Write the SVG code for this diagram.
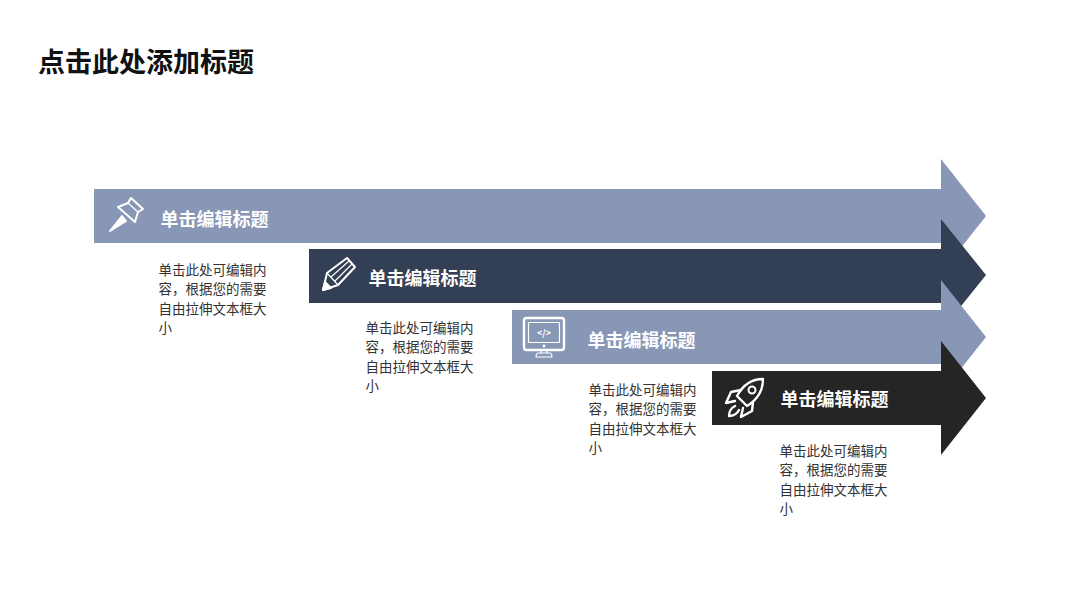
<svg xmlns="http://www.w3.org/2000/svg" width="1080" height="608" viewBox="0 0 1080 608">
<style>
text{font-family:"Noto Sans CJK SC","Liberation Sans",sans-serif}
.title{font-size:27px;font-weight:700;fill:#111}
.head{font-size:18px;font-weight:700;fill:#fff}
.body{font-size:13.5px;fill:#333}
.ic{fill:none;stroke:#fff;stroke-width:2;stroke-linejoin:round;stroke-linecap:round}
.thin{stroke-width:1.2}
</style>
<rect width="1080" height="608" fill="#fff"/>
<text class="title" x="38" y="72" textLength="216" lengthAdjust="spacingAndGlyphs">点击此处添加标题</text>

<g id="node-1">
<path fill="#8997b6" d="M94 189H941V159L986 216L941 273V243H94Z"/>
<g class="ic">
<path d="M131 198L143 209L138 212L135 222L118 207L128 203Z"/>
<path d="M128 203L138 212" class="thin"/>
<path d="M122 216L110 231L126 221Z" fill="#fff"/>
</g>
<text class="head" x="160.500" y="226">单击编辑标题</text>
<text class="body"><tspan x="158.500" y="275">单击此处可编辑内</tspan><tspan x="158.500" y="294">容，根据您的需要</tspan><tspan x="158.500" y="314">自由拉伸文本框大</tspan><tspan x="158.500" y="333">小</tspan></text>
</g>

<g id="node-2">
<path fill="#333f54" d="M309 249H941V219L986 275L941 331V303H309Z"/>
<g class="ic">
<path d="M323 290L327 273L347 258L355 267L338 285Z"/>
<path d="M331 277L349 261M335 281L352 264M327 273L338 285" class="thin"/>
<path d="M323 290L325 282L331 288Z" fill="#fff"/>
</g>
<text class="head" x="368.500" y="285">单击编辑标题</text>
<text class="body"><tspan x="365.500" y="333">单击此处可编辑内</tspan><tspan x="365.500" y="352">容，根据您的需要</tspan><tspan x="365.500" y="372">自由拉伸文本框大</tspan><tspan x="365.500" y="391">小</tspan></text>
</g>

<g id="node-3">
<path fill="#8997b6" d="M512 310H941V280L986 337L941 394V364H512Z"/>
<g class="ic">
<rect x="524" y="318" width="40" height="32" rx="2.500" stroke-width="2.400"/>
<rect x="528.500" y="322.500" width="31" height="20" class="thin"/>
<path d="M541 350V353M547 350V353M536 357Q536 353 539 353H549Q552 353 552 357Z" class="thin"/>
<circle cx="544" cy="346" r="0.800" class="thin"/>
</g>
<text x="544" y="336" font-size="9" font-weight="700" fill="#fff" text-anchor="middle">&lt;/&gt;</text>
<text class="head" x="587.500" y="347">单击编辑标题</text>
<text class="body"><tspan x="588.500" y="395">单击此处可编辑内</tspan><tspan x="588.500" y="414">容，根据您的需要</tspan><tspan x="588.500" y="434">自由拉伸文本框大</tspan><tspan x="588.500" y="453">小</tspan></text>
</g>

<g id="node-4">
<path fill="#252525" d="M712 371H941V341L986 398L941 455V425H712Z"/>
<g class="ic" stroke-width="2.400">
<path d="M763 379C752 379 743 385 737 396L747 406C757 400 763 391 763 379Z" style="stroke-width:2.400px"/>
<circle cx="752" cy="390" r="3.500"/>
<path d="M741 390L731 392L726 403L735 401M753 402L752 411L741 417L743 408M735 406C731 408 729 412 729 416C733 416 737 414 739 410" style="stroke-width:2.400px"/>
</g>
<text class="head" x="780.500" y="406">单击编辑标题</text>
<text class="body"><tspan x="779.500" y="456">单击此处可编辑内</tspan><tspan x="779.500" y="475">容，根据您的需要</tspan><tspan x="779.500" y="495">自由拉伸文本框大</tspan><tspan x="779.500" y="514">小</tspan></text>
</g>
<g id="connectors"/>
</svg>
